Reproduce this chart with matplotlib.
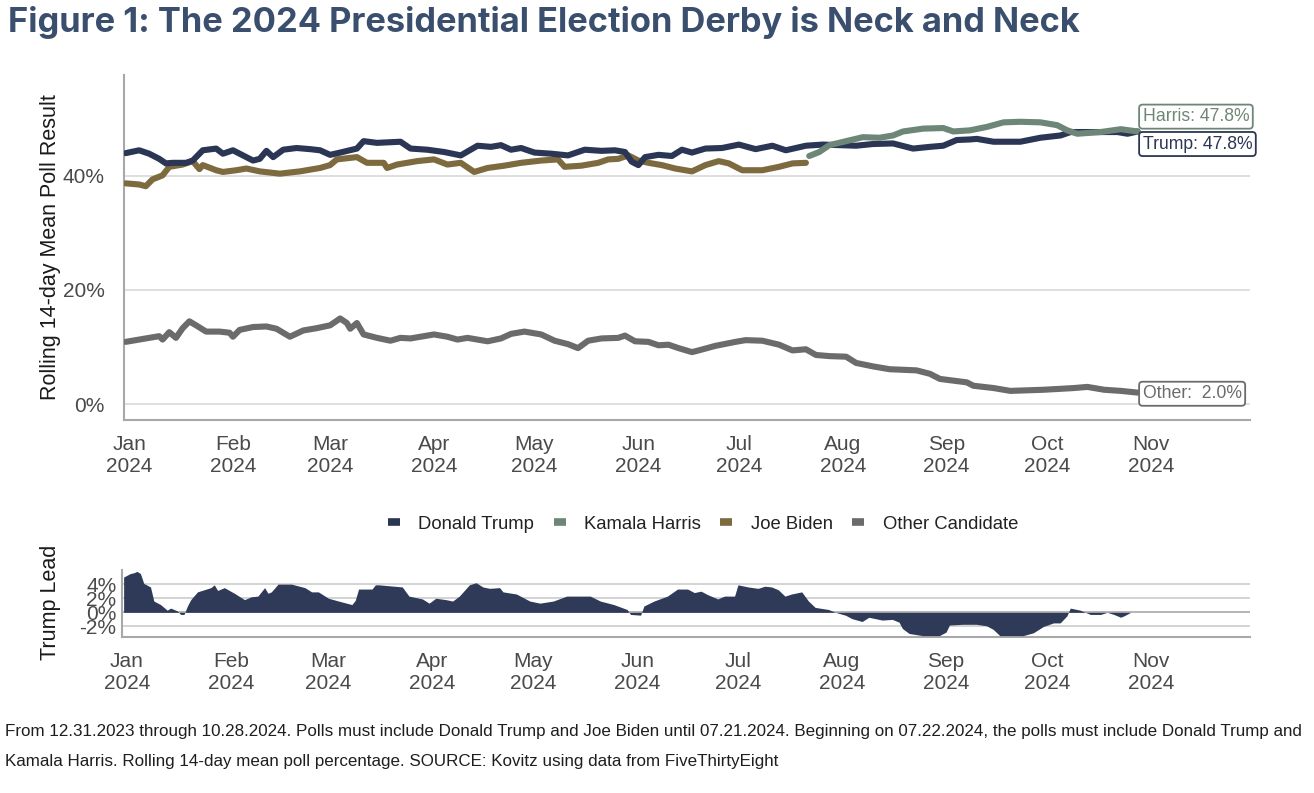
import numpy as np
import matplotlib
matplotlib.use("Agg")
import matplotlib.pyplot as plt
import matplotlib.dates as mdates

# ---------------- data (day offsets from 2024-01-01, values in %) ----------------
trump_days = [-1, 3, 6, 9, 11, 13, 17, 19, 22, 26, 28, 31, 33, 37, 39, 41, 43, 46, 50, 54, 57, 60, 63, 68, 70, 74,
              81, 84, 89, 94, 99, 104, 108, 111, 114, 117, 121, 126, 131, 136, 141, 145, 148, 150, 152, 154, 158,
              162, 165, 168, 172, 177, 182, 187, 192, 196, 202, 207, 212, 217, 222, 228, 234, 239, 243, 247, 251,
              253, 258, 266, 272, 278, 281, 288, 295, 298, 301]
trump_vals = [44.0, 44.5, 43.9, 43.0, 42.2, 42.3, 42.3, 42.7, 44.5, 44.8, 43.9, 44.5, 43.9, 42.7, 43.0, 44.4, 43.3,
              44.6, 44.9, 44.7, 44.5, 43.7, 44.1, 44.8, 46.1, 45.8, 46.0, 44.8, 44.6, 44.2, 43.6, 45.3, 45.1, 45.4,
              44.6, 44.9, 44.1, 43.9, 43.6, 44.6, 44.4, 44.5, 44.2, 42.5, 41.9, 43.3, 43.7, 43.5, 44.6, 44.1, 44.8,
              44.9, 45.5, 44.7, 45.3, 44.5, 45.3, 45.5, 45.4, 45.3, 45.6, 45.7, 44.8, 45.1, 45.3, 46.3, 46.4, 46.5,
              46.0, 46.0, 46.7, 47.1, 47.7, 47.7, 47.7, 47.4, 47.8]

harris_days = [203, 206, 209, 214, 219, 224, 228, 231, 237, 243, 246, 251, 256, 261, 266, 272, 277, 280, 283, 290,
               296, 301]
harris_vals = [43.5, 44.2, 45.4, 46.1, 46.8, 46.7, 47.1, 47.8, 48.3, 48.4, 47.8, 48.0, 48.6, 49.4, 49.5, 49.4, 48.9,
               48.0, 47.4, 47.7, 48.2, 47.8]

biden_days = [-1, 3, 5, 7, 10, 12, 16, 19, 21, 22, 26, 28, 32, 35, 39, 45, 51, 57, 60, 62, 68, 71, 76, 77, 80, 86,
              91, 95, 99, 103, 107, 112, 117, 123, 128, 130, 135, 140, 143, 146, 149, 152, 155, 159, 163, 168, 172,
              176, 179, 183, 189, 194, 198, 202]
biden_vals = [38.7, 38.5, 38.2, 39.4, 40.1, 41.6, 42.0, 42.6, 41.2, 41.9, 41.0, 40.7, 41.0, 41.3, 40.8, 40.4, 40.8,
              41.4, 41.9, 42.9, 43.3, 42.3, 42.3, 41.4, 42.0, 42.6, 42.9, 42.0, 42.3, 40.7, 41.4, 41.8, 42.3, 42.7,
              42.9, 41.6, 41.8, 42.3, 42.9, 43.0, 43.6, 42.7, 42.3, 41.9, 41.3, 40.8, 41.9, 42.6, 42.2, 41.0, 41.0,
              41.6, 42.2, 42.3]

other_days = [-1, 3, 6, 9, 10, 12, 14, 16, 18, 20, 23, 27, 30, 31, 33, 37, 41, 44, 48, 52, 56, 60, 63, 65, 66, 68,
              70, 74, 78, 81, 84, 91, 95, 98, 101, 107, 111, 114, 118, 123, 127, 131, 134, 137, 141, 146, 148, 151,
              155, 158, 161, 164, 168, 170, 175, 181, 184, 189, 194, 198, 202, 205, 209, 214, 217, 222, 227, 235,
              239, 242, 250, 252, 258, 263, 273, 282, 286, 291, 296, 301]
other_vals = [10.9, 11.3, 11.6, 11.9, 11.3, 12.6, 11.6, 13.3, 14.5, 13.8, 12.7, 12.7, 12.5, 11.8, 13.0, 13.5, 13.6,
              13.2, 11.8, 12.9, 13.3, 13.8, 15.0, 14.2, 13.2, 14.2, 12.2, 11.6, 11.1, 11.6, 11.5, 12.2, 11.8, 11.3,
              11.6, 11.0, 11.5, 12.3, 12.7, 12.2, 11.1, 10.5, 9.8, 11.1, 11.5, 11.6, 12.0, 11.0, 10.9, 10.3, 10.4,
              9.8, 9.1, 9.4, 10.2, 10.9, 11.2, 11.1, 10.4, 9.4, 9.6, 8.6, 8.4, 8.3, 7.2, 6.6, 6.1, 5.9, 5.3, 4.4,
              3.8, 3.2, 2.8, 2.3, 2.5, 2.8, 3.0, 2.5, 2.3, 2.0]

lead_days = [-1, 1, 2, 3, 4, 5, 7, 8, 10, 12, 13, 15, 16, 17, 18, 19, 21, 25, 26, 27, 29, 32, 35, 37, 39, 41, 42,
             43, 45, 49, 53, 55, 57, 60, 63, 67, 68, 69, 73, 74, 75, 82, 84, 88, 90, 92, 95, 97, 99, 102, 104, 106,
             108, 111, 112, 116, 120, 123, 127, 131, 138, 141, 145, 149, 150, 153, 154, 157, 161, 164, 167, 169,
             171, 173, 176, 178, 181, 182, 185, 188, 190, 192, 194, 196, 198, 201, 203, 205, 209, 211, 214, 216,
             219, 221, 225, 228, 230, 231, 233, 237, 242, 244, 245, 249, 253, 256, 258, 260, 264, 267, 270, 273,
             276, 278, 280, 281, 284, 287, 290, 292, 294, 296, 297, 299, 301]
lead_vals = [5.0, 5.5, 5.6, 5.8, 5.5, 4.1, 3.6, 1.6, 1.1, 0.3, 0.6, 0.2, -0.3, -0.3, 0.9, 1.8, 2.9, 3.5, 3.9, 3.1,
             3.5, 2.7, 1.8, 2.2, 2.3, 3.5, 2.7, 2.9, 4.0, 4.0, 3.5, 2.9, 2.9, 2.0, 1.6, 1.1, 1.7, 3.3, 3.3, 3.9, 3.9,
             3.6, 2.3, 1.9, 1.3, 2.0, 1.8, 1.6, 2.3, 3.9, 4.2, 3.6, 3.4, 3.5, 2.9, 2.6, 1.6, 1.3, 1.6, 2.3, 2.3, 1.6,
             1.1, 0.4, -0.3, -0.4, 0.9, 1.6, 2.3, 3.3, 3.3, 2.8, 3.0, 2.5, 1.9, 2.3, 2.3, 3.9, 3.6, 3.4, 3.7, 3.6,
             3.2, 2.3, 2.6, 2.9, 1.6, 0.7, 0.4, 0.0, -0.4, -0.9, -1.3, -0.7, -1.1, -1.0, -1.4, -2.3, -3.0, -3.3,
             -3.3, -2.8, -1.8, -1.7, -1.7, -1.9, -2.4, -3.3, -3.3, -3.3, -2.9, -2.0, -1.5, -1.5, -0.5, 0.6, 0.3,
             -0.3, -0.3, 0.0, -0.3, -0.7, -0.5, 0.0, 0.0]

series_names = ["Donald Trump", "Kamala Harris", "Joe Biden", "Other Candidate"]
end_labels = ["Harris: 47.8%", "Trump: 47.8%", "Other:  2.0%"]
month_ticks = ["2024-01-01", "2024-02-01", "2024-03-01", "2024-04-01", "2024-05-01", "2024-06-01",
               "2024-07-01", "2024-08-01", "2024-09-01", "2024-10-01", "2024-11-01"]

title = "Figure 1: The 2024 Presidential Election Derby is Neck and Neck"
caption1 = ("From 12.31.2023 through 10.28.2024. Polls must include Donald Trump and Joe Biden until 07.21.2024. "
            "Beginning on 07.22.2024, the polls must include Donald Trump and")
caption2 = "Kamala Harris. Rolling 14-day mean poll percentage. SOURCE: Kovitz using data from FiveThirtyEight"

# ---------------- styling ----------------
C_TRUMP = "#2b3655"
C_HARRIS = "#6e8677"
C_BIDEN = "#7d6a3e"
C_OTHER = "#6b6b6b"
C_FILL = "#2e3a57"
C_GRID = "#d6d6d6"
C_SPINE = "#a8a8a8"
C_TICK = "#4a4a4a"

base = np.datetime64("2024-01-01")


def to_dates(days):
    return base + np.array(days, dtype="timedelta64[D]")


plt.rcParams["font.family"] = ["Liberation Sans", "DejaVu Sans"]

fig = plt.figure(figsize=(13.14, 7.93), dpi=100)
ax = fig.add_axes([0.0944, 0.4704, 0.8570, 0.4350])
ax2 = fig.add_axes([0.0928, 0.1967, 0.8586, 0.0845])

xmin = np.datetime64("2023-12-30T12:00")
xmax = np.datetime64("2024-11-30T14:00")
ticks = np.array(month_ticks, dtype="datetime64[D]")

lw = 4.4
kw = dict(lw=lw, solid_capstyle="round", solid_joinstyle="round")
ax.plot(to_dates(other_days), other_vals, color=C_OTHER, label=series_names[3], zorder=3, **kw)
ax.plot(to_dates(biden_days), biden_vals, color=C_BIDEN, label=series_names[2], zorder=3, **kw)
ax.plot(to_dates(trump_days), trump_vals, color=C_TRUMP, label=series_names[0], zorder=4, **kw)
ax.plot(to_dates(harris_days), harris_vals, color=C_HARRIS, label=series_names[1], zorder=5, **kw)

ax.set_xlim(xmin, xmax)
ax.set_ylim(-2.8, 57.7)
ax.set_yticks([0, 20, 40])
ax.set_yticklabels(["0%", "20%", "40%"])
ax.set_xticks(ticks)
ax.xaxis.set_major_formatter(mdates.DateFormatter("%b\n%Y"))
ax.grid(axis="y", color=C_GRID, lw=1.1)
ax.set_axisbelow(True)
for s in ["top", "right"]:
    ax.spines[s].set_visible(False)
for s in ["left", "bottom"]:
    ax.spines[s].set_color(C_SPINE)
    ax.spines[s].set_linewidth(1.5)
ax.tick_params(length=0, labelsize=15, colors=C_TICK, pad=11)
ax.tick_params(axis="y", pad=14)
ax.set_ylabel("Rolling 14-day Mean Poll Result", fontsize=15.5, color="#1a1a1a", labelpad=1)

# end labels
lab_x = np.datetime64("2024-10-29T12:00")
bbox = dict(boxstyle="round,pad=0.2,rounding_size=0.2", fc="white", lw=1.3)
ax.text(lab_x, 50.4, end_labels[0], fontsize=12.7, color=C_HARRIS, va="center", ha="left",
        bbox=dict(bbox, ec=C_HARRIS), zorder=6)
ax.text(lab_x, 45.6, end_labels[1], fontsize=12.7, color=C_TRUMP, va="center", ha="left",
        bbox=dict(bbox, ec=C_TRUMP), zorder=6)
ax.text(lab_x, 1.8, end_labels[2], fontsize=12.7, color=C_OTHER, va="center", ha="left",
        bbox=dict(bbox, ec=C_OTHER), zorder=6)

# legend
handles, labels = ax.get_legend_handles_labels()
order = [2, 3, 1, 0]
leg = fig.legend([handles[i] for i in order], [labels[i] for i in order], loc="center",
                 bbox_to_anchor=(0.535, 0.339), ncol=4, frameon=False, fontsize=13.3,
                 handlelength=0.65, handletextpad=1.0, columnspacing=1.05)
for t in leg.get_texts():
    t.set_color("#222222")
for h in leg.legend_handles:
    h.set_linewidth(5.5)
    h.set_solid_capstyle("butt")

# bottom: Trump lead
ax2.fill_between(to_dates(lead_days), lead_vals, 0, color=C_FILL, lw=0, zorder=3)
ax2.set_xlim(xmin, xmax)
ax2.set_ylim(-3.5, 6.0)
ax2.set_yticks([-2, 0, 2, 4])
ax2.set_yticklabels(["-2%", "0%", "2%", "4%"])
ax2.set_xticks(ticks)
ax2.xaxis.set_major_formatter(mdates.DateFormatter("%b\n%Y"))
ax2.grid(axis="y", color="#c8c8c8", lw=1.1)
ax2.axhline(0, color="#b0b0b0", lw=1.2, zorder=1)
ax2.set_axisbelow(True)
for s in ["top", "right"]:
    ax2.spines[s].set_visible(False)
for s in ["left", "bottom"]:
    ax2.spines[s].set_color(C_SPINE)
    ax2.spines[s].set_linewidth(1.5)
ax2.tick_params(length=0, labelsize=15, colors=C_TICK, pad=11)
ax2.tick_params(axis="y", pad=4)
ax2.set_ylabel("Trump Lead", fontsize=15.5, color="#1a1a1a")
ax2.yaxis.set_label_coords(-0.0536, 0.52)

# title & caption
fig.text(0.006, 0.972, title, fontsize=24.8, fontweight="bold", color="#3a4e6e", family=["Inter", "DejaVu Sans"],
         va="center", ha="left")
fig.text(0.004, 0.078, caption1, fontsize=12.25, color="#1e1e1e", va="center", ha="left")
fig.text(0.004, 0.040, caption2, fontsize=12.25, color="#1e1e1e", va="center", ha="left")

fig.savefig("out.png", dpi=100)
